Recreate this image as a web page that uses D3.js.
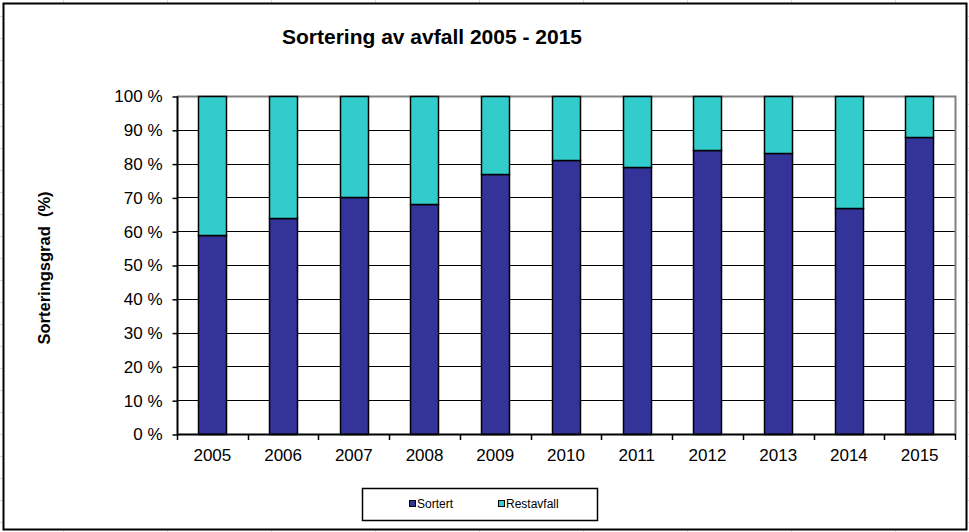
<!DOCTYPE html>
<html>
<head>
<meta charset="utf-8">
<script src="https://cdn.jsdelivr.net/npm/d3@7"></script>
<style>
  body { margin: 0; background: #fff; }
  svg { display: block; font-family: "Liberation Sans", Arial, sans-serif; }
</style>
</head>
<body>
<script>
var years = ["2005", "2006", "2007", "2008", "2009", "2010", "2011", "2012", "2013", "2014", "2015"];
var sortert = [59, 64, 70, 68, 77, 81, 79, 84, 83, 67, 88];
var restavfall = [41, 36, 30, 32, 23, 19, 21, 16, 17, 33, 12];
var yTicks = [0, 10, 20, 30, 40, 50, 60, 70, 80, 90, 100];

var width = 969;
var height = 532;
var plotLeft = 177, plotRight = 955, plotTop = 96, plotBottom = 434;

var svg = d3.select("body").append("svg")
    .attr("width", width)
    .attr("height", height);

// faint spreadsheet cells behind the chart
var cols = d3.range(63, width, 104);
var rows = d3.range(16, height, 22);
svg.selectAll("line.vcell")
    .data(cols)
    .enter()
    .append("line")
    .attr("x1", function(d) { return d + 0.5; })
    .attr("x2", function(d) { return d + 0.5; })
    .attr("y1", 0)
    .attr("y2", height)
    .attr("stroke", "#dadada")
    .attr("stroke-width", 1);
svg.selectAll("line.hcell")
    .data(rows)
    .enter()
    .append("line")
    .attr("x1", 0)
    .attr("x2", width)
    .attr("y1", function(d) { return d + 0.5; })
    .attr("y2", function(d) { return d + 0.5; })
    .attr("stroke", "#dadada")
    .attr("stroke-width", 1);

// chart area
svg.append("rect")
    .attr("x", 3.5)
    .attr("y", 3.5)
    .attr("width", 963)
    .attr("height", 526)
    .attr("fill", "white")
    .attr("stroke", "black")
    .attr("stroke-width", 2);

var x = d3.scaleBand()
    .domain(years)
    .range([plotLeft, plotRight])
    .paddingInner(0.6)
    .paddingOuter(0.3);

var y = d3.scaleLinear()
    .domain([0, 100])
    .range([plotBottom, plotTop]);

// gridlines
svg.selectAll("line.grid")
    .data(yTicks.filter(function(d) { return d > 0 && d < 100; }))
    .enter()
    .append("line")
    .attr("x1", plotLeft)
    .attr("x2", plotRight)
    .attr("y1", function(d) { return Math.round(y(d)) + 0.5; })
    .attr("y2", function(d) { return Math.round(y(d)) + 0.5; })
    .attr("stroke", "black")
    .attr("stroke-width", 1);

// plot border top/right (grey)
svg.append("path")
    .attr("d", "M" + plotLeft + "," + (plotTop + 0.5) + "H" + (plotRight + 0.5) + "V" + plotBottom)
    .attr("fill", "none")
    .attr("stroke", "#808080")
    .attr("stroke-width", 2);

// bars
svg.selectAll("rect.sortert")
    .data(sortert)
    .enter()
    .append("rect")
    .attr("x", function(d, i) { return Math.round(x(years[i])) + 0.5; })
    .attr("y", function(d) { return Math.round(y(d)) + 0.5; })
    .attr("width", Math.round(x.bandwidth()))
    .attr("height", function(d) { return Math.round(y(0)) - Math.round(y(d)); })
    .attr("fill", "#333399")
    .attr("stroke", "black")
    .attr("stroke-width", 1.5);

svg.selectAll("rect.rest")
    .data(restavfall)
    .enter()
    .append("rect")
    .attr("x", function(d, i) { return Math.round(x(years[i])) + 0.5; })
    .attr("y", function(d, i) { return Math.round(y(sortert[i] + d)) + 0.5; })
    .attr("width", Math.round(x.bandwidth()))
    .attr("height", function(d, i) { return Math.round(y(sortert[i])) - Math.round(y(sortert[i] + d)); })
    .attr("fill", "#33CCCC")
    .attr("stroke", "black")
    .attr("stroke-width", 1.5);

// y axis
var yAxis = d3.axisLeft(y)
    .tickValues(yTicks)
    .tickSize(5)
    .tickPadding(10)
    .tickFormat(function(d) { return d + " %"; });

var gy = svg.append("g")
    .attr("transform", "translate(" + (plotLeft + 0.5) + ",0.5)")
    .call(yAxis);
gy.select(".domain").attr("stroke", "black").attr("stroke-width", 2).attr("d", "M0," + plotTop + "V" + plotBottom);
gy.selectAll(".tick line").attr("stroke", "black").attr("stroke-width", 1.5);
gy.selectAll(".tick text")
    .attr("font-size", "17px")
    .attr("font-family", "Liberation Sans, Arial, sans-serif")
    .attr("fill", "black");

// x axis
var boundaries = d3.range(years.length + 1).map(function(i) { return plotLeft + i * x.step(); });
svg.append("line")
    .attr("x1", plotLeft)
    .attr("x2", plotRight)
    .attr("y1", plotBottom + 0.5)
    .attr("y2", plotBottom + 0.5)
    .attr("stroke", "black")
    .attr("stroke-width", 2);

svg.selectAll("line.xtick")
    .data(boundaries)
    .enter()
    .append("line")
    .attr("x1", function(d) { return Math.round(d) + 0.5; })
    .attr("x2", function(d) { return Math.round(d) + 0.5; })
    .attr("y1", plotBottom)
    .attr("y2", plotBottom + 6)
    .attr("stroke", "black")
    .attr("stroke-width", 1.5);

svg.selectAll("text.xlabel")
    .data(years)
    .enter()
    .append("text")
    .text(function(d) { return d; })
    .attr("x", function(d) { return x(d) + x.bandwidth() / 2; })
    .attr("y", 461)
    .attr("font-size", "17px")
    .attr("text-anchor", "middle")
    .attr("fill", "black");

// title
svg.append("text")
    .text("Sortering av avfall 2005 - 2015")
    .attr("x", 432)
    .attr("y", 44)
    .attr("font-size", "21px")
    .attr("font-weight", "bold")
    .attr("text-anchor", "middle");

svg.append("text")
    .text("Sorteringsgrad\u00a0\u00a0(%)")
    .attr("transform", "translate(50,268) rotate(-90)")
    .attr("font-size", "16.5px")
    .attr("font-weight", "bold")
    .attr("text-anchor", "middle");

// legend
var legend = svg.append("g");
legend.append("rect")
    .attr("x", 362.5)
    .attr("y", 488.5)
    .attr("width", 235)
    .attr("height", 32)
    .attr("fill", "white")
    .attr("stroke", "black")
    .attr("stroke-width", 1.5);

var legendItems = [
    { name: "Sortert", color: "#333399", x: 409 },
    { name: "Restavfall", color: "#33CCCC", x: 498 }
];
legend.selectAll("rect.key")
    .data(legendItems)
    .enter()
    .append("rect")
    .attr("x", function(d) { return d.x + 0.5; })
    .attr("y", 500.5)
    .attr("width", 6)
    .attr("height", 6)
    .attr("fill", function(d) { return d.color; })
    .attr("stroke", "black")
    .attr("stroke-width", 1);
legend.selectAll("text.lbl")
    .data(legendItems)
    .enter()
    .append("text")
    .text(function(d) { return d.name; })
    .attr("x", function(d) { return d.x + 8; })
    .attr("y", 508)
    .attr("font-size", "12px")
    .attr("fill", "black");
</script>
</body>
</html>
